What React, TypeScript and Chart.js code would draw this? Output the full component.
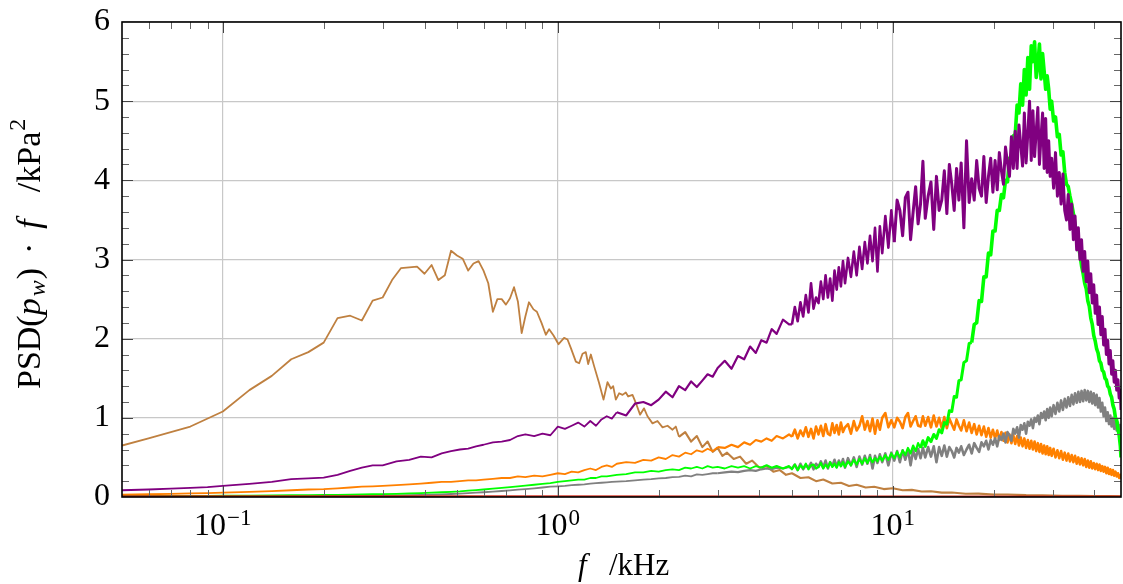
import React, { useEffect, useRef } from "react";
import { Chart, registerables } from "chart.js";

Chart.register(...registerables);

const SERIF = '"Liberation Serif", "Times New Roman", serif';

// ---- Shared frequency grid (kHz) for the violet / green / orange / gray spectra ----
const freqLow = [
  0.05, 0.06, 0.07, 0.08, 0.09, 0.1, 0.12, 0.14, 0.16, 0.18, 0.2, 0.22, 0.24, 0.26, 0.28, 0.3,
  0.33, 0.36, 0.39, 0.42, 0.45, 0.48, 0.51, 0.54, 0.57, 0.6, 0.64, 0.68, 0.72, 0.76, 0.8, 0.85,
  0.9, 0.95,
];
const freqMid = [
  1.0, 1.05, 1.1, 1.15, 1.2, 1.25, 1.3, 1.35, 1.4, 1.45, 1.5, 1.6, 1.7, 1.8, 1.9, 2.0, 2.1, 2.2,
  2.3, 2.4, 2.5, 2.6, 2.7, 2.8, 2.9, 3.0, 3.15, 3.3, 3.45, 3.6, 3.75, 3.9, 4.05, 4.2, 4.35, 4.5,
  4.7, 4.9,
];
const freqHigh = [
  5.0, 5.1, 5.2, 5.3, 5.4, 5.5, 5.6, 5.7, 5.8, 5.9,
  6.0, 6.1, 6.2, 6.3, 6.4, 6.5, 6.6, 6.7, 6.8, 6.9,
  7.0, 7.1, 7.2, 7.35, 7.5, 7.65, 7.8, 7.95, 8.1, 8.25,
  8.4, 8.55, 8.7, 8.85, 9.0, 9.15, 9.3, 9.5, 9.7, 9.9,
  10.1, 10.3, 10.5, 10.7, 10.9, 11.1, 11.3, 11.5, 11.7, 11.9,
  12.1, 12.3, 12.5, 12.75, 13.0, 13.25, 13.5, 13.75, 14.0, 14.25,
  14.5, 14.75, 15.0, 15.25, 15.5, 15.75, 16.0, 16.3, 16.6, 16.9,
  17.2, 17.5, 17.8, 18.1, 18.4, 18.7, 19.0, 19.3, 19.6, 19.9,
  20.2, 20.5, 20.8, 21.1, 21.4, 21.7, 22.0, 22.3, 22.6, 22.9,
  23.2, 23.5, 23.8, 24.1, 24.4, 24.7, 25.0, 25.3, 25.6, 25.9,
  26.2, 26.5, 26.8, 27.1, 27.4, 27.7, 28.0, 28.3, 28.6, 28.9,
  29.2, 29.5, 29.8, 30.2, 30.6, 31.0, 31.4, 31.8, 32.2, 32.6,
  33.0, 33.4, 33.8, 34.2, 34.6, 35.0, 35.4, 35.8, 36.2, 36.6,
  37.0, 37.4, 37.8, 38.2, 38.6, 39.0, 39.4, 39.8, 40.2, 40.6,
  41.0, 41.4, 41.8, 42.2, 42.6, 43.0, 43.4, 43.8, 44.2, 44.6,
  45.0, 45.4, 45.8, 46.2, 46.6, 47.0, 47.4, 47.8, 48.0,
];

// ---- PSD(p_w)·f in kPa², violet spectrum ----
const violetLow = [
  0.085, 0.095, 0.105, 0.115, 0.125, 0.14, 0.165, 0.19, 0.225, 0.235, 0.245, 0.28, 0.33, 0.37,
  0.4, 0.4, 0.45, 0.47, 0.51, 0.5, 0.55, 0.58, 0.6, 0.61, 0.64, 0.66, 0.69, 0.7, 0.72, 0.77,
  0.79, 0.77, 0.8, 0.78,
];
const violetMid = [
  0.89, 0.86, 0.9, 0.94, 0.89, 0.96, 0.9, 0.98, 1.02, 0.99, 1.07, 1.03, 1.18, 1.2, 1.16, 1.23,
  1.33, 1.26, 1.4, 1.35, 1.46, 1.39, 1.47, 1.55, 1.52, 1.63, 1.72, 1.62, 1.78, 1.74, 1.9, 1.82,
  1.98, 1.95, 2.12, 2.06, 2.24, 2.18,
];
const violetHigh = [
  2.18, 2.4, 2.22, 2.46, 2.28, 2.55, 2.33, 2.7, 2.38, 2.52,
  2.45, 2.72, 2.5, 2.8, 2.52, 2.76, 2.48, 2.86, 2.62, 2.9,
  2.66, 2.98, 2.7, 3.02, 2.78, 3.1, 2.8, 3.16, 2.88, 3.22,
  2.95, 3.3, 2.98, 3.4, 2.85, 3.42, 3.08, 3.55, 3.15, 3.62,
  3.22, 3.75, 3.62, 3.3, 3.78, 3.85, 3.25, 3.6, 3.92, 3.45,
  3.7, 4.24, 3.52, 3.8, 3.98, 3.38, 4.05, 3.62, 3.75, 4.12,
  3.58, 4.2, 3.95, 3.62, 4.15, 3.75, 4.22, 3.4, 4.5, 3.72,
  4.02, 3.75, 4.25, 3.9, 3.8, 4.3, 3.72, 4.05, 4.28, 3.85,
  4.25, 3.88, 4.35, 4.12, 3.95, 4.42, 4.22, 4.05, 4.55, 4.15,
  4.62, 4.15, 4.7, 4.45, 4.18, 4.85, 4.22, 4.6, 5.0, 4.25,
  4.88, 4.3, 4.62, 4.92, 4.2, 4.55, 4.85, 4.15, 4.78, 4.1,
  4.5, 4.05, 4.28, 3.9, 4.35, 3.8, 4.1, 3.7, 4.08, 3.62,
  3.5, 3.82, 3.38, 3.7, 3.25, 3.55, 3.12, 3.4, 3.0, 3.25,
  2.85, 3.1, 2.72, 2.98, 2.58, 2.82, 2.45, 2.68, 2.32, 2.55,
  2.18, 2.4, 2.05, 2.28, 1.92, 2.12, 1.8, 1.98, 1.68, 1.85,
  1.55, 1.72, 1.45, 1.6, 1.35, 1.48, 1.25, 1.35, 1.1,
];

// ---- green spectrum ----
const greenLow = [
  0.012, 0.012, 0.013, 0.014, 0.015, 0.016, 0.018, 0.02, 0.022, 0.024, 0.026, 0.028, 0.03, 0.032,
  0.035, 0.037, 0.04, 0.045, 0.05, 0.055, 0.06, 0.066, 0.072, 0.08, 0.087, 0.095, 0.105, 0.115,
  0.125, 0.135, 0.145, 0.155, 0.165, 0.175,
];
const greenMid = [
  0.19, 0.2, 0.21, 0.22, 0.22, 0.24, 0.24, 0.26, 0.26, 0.27, 0.28, 0.29, 0.31, 0.31, 0.33, 0.32,
  0.34, 0.35, 0.34, 0.37, 0.36, 0.38, 0.36, 0.39, 0.37, 0.38, 0.36, 0.39, 0.37, 0.39, 0.36, 0.39,
  0.37, 0.4, 0.37, 0.39, 0.36, 0.39,
];
const greenHigh = [
  0.35, 0.41, 0.34, 0.4, 0.36, 0.42, 0.35, 0.4, 0.41, 0.36,
  0.38, 0.43, 0.36, 0.41, 0.37, 0.44, 0.38, 0.42, 0.37, 0.44,
  0.39, 0.44, 0.38, 0.45, 0.4, 0.47, 0.41, 0.48, 0.42, 0.49,
  0.43, 0.5, 0.44, 0.49, 0.45, 0.51, 0.46, 0.53, 0.47, 0.55,
  0.49, 0.57, 0.5, 0.59, 0.53, 0.62, 0.55, 0.65, 0.58, 0.68,
  0.62, 0.71, 0.64, 0.75, 0.7, 0.79, 0.74, 0.85, 0.81, 0.94,
  0.92, 1.09, 1.08, 1.27, 1.26, 1.47, 1.48, 1.7, 1.72, 1.94,
  1.95, 2.18, 2.2, 2.48, 2.47, 2.78, 2.78, 3.08, 3.06, 3.36,
  3.36, 3.62, 3.62, 3.82, 3.78, 4.0, 3.98, 4.28, 4.26, 4.56,
  4.58, 4.95, 4.85, 5.22, 4.95, 5.4, 5.08, 5.55, 5.15, 5.7,
  5.5, 5.75, 5.3, 5.45, 5.72, 5.28, 5.6, 5.38, 5.15, 5.32,
  5.15, 4.9, 5.0, 4.75, 4.8, 4.55, 4.58, 4.32, 4.36, 4.1,
  3.95, 3.92, 3.8, 3.7, 3.58, 3.44, 3.32, 3.18, 3.06, 2.92,
  2.82, 2.7, 2.63, 2.48, 2.41, 2.26, 2.18, 2.04, 1.97, 1.87,
  1.82, 1.72, 1.69, 1.6, 1.58, 1.5, 1.48, 1.4, 1.38, 1.3,
  1.26, 1.16, 1.11, 1.0, 0.97, 0.86, 0.78, 0.64, 0.5,
];

// ---- orange spectrum ----
const orangeLow = [
  0.03, 0.035, 0.04, 0.045, 0.05, 0.055, 0.065, 0.075, 0.085, 0.095, 0.1, 0.11, 0.12, 0.13, 0.135,
  0.14, 0.15, 0.16, 0.17, 0.18, 0.19, 0.19, 0.2, 0.21, 0.21, 0.22, 0.23, 0.24, 0.24, 0.26, 0.25,
  0.27, 0.26, 0.28,
];
const orangeMid = [
  0.3, 0.29, 0.32, 0.31, 0.34, 0.36, 0.34, 0.38, 0.4, 0.38, 0.42, 0.44, 0.43, 0.47, 0.46, 0.5,
  0.48, 0.53, 0.51, 0.56, 0.54, 0.59, 0.57, 0.61, 0.58, 0.63, 0.62, 0.66, 0.63, 0.69, 0.66, 0.72,
  0.7, 0.74, 0.71, 0.77, 0.74, 0.79,
];
const orangeHigh = [
  0.76, 0.85, 0.74, 0.84, 0.77, 0.88, 0.76, 0.86, 0.74, 0.89,
  0.79, 0.9, 0.77, 0.92, 0.8, 0.78, 0.93, 0.81, 0.91, 0.79,
  0.94, 0.82, 0.88, 0.92, 0.8, 0.96, 0.84, 0.9, 1.02, 0.85,
  0.96, 0.83, 0.99, 0.8, 0.97, 0.85, 1.0, 1.06, 0.88, 0.97,
  0.88, 1.0, 0.95, 0.87, 1.01, 1.06, 0.89, 0.96, 1.02, 0.9,
  0.89, 1.02, 0.9, 1.01, 0.88, 1.03, 0.89, 1.0, 0.87, 1.01,
  0.87, 0.99, 0.92, 0.85, 0.98, 0.9, 0.84, 0.97, 0.83, 0.94,
  0.81, 0.92, 0.79, 0.9, 0.78, 0.89, 0.76, 0.87, 0.75, 0.85,
  0.74, 0.84, 0.72, 0.82, 0.71, 0.81, 0.69, 0.79, 0.68, 0.78,
  0.67, 0.77, 0.65, 0.75, 0.64, 0.74, 0.62, 0.72, 0.61, 0.71,
  0.6, 0.7, 0.58, 0.68, 0.57, 0.67, 0.55, 0.65, 0.54, 0.64,
  0.53, 0.62, 0.52, 0.61, 0.5, 0.59, 0.49, 0.58, 0.47, 0.56,
  0.46, 0.55, 0.45, 0.53, 0.44, 0.52, 0.42, 0.5, 0.41, 0.49,
  0.4, 0.48, 0.38, 0.46, 0.37, 0.45, 0.36, 0.43, 0.35, 0.42,
  0.34, 0.41, 0.33, 0.39, 0.32, 0.38, 0.3, 0.37, 0.29, 0.35,
  0.28, 0.34, 0.27, 0.32, 0.26, 0.3, 0.24, 0.28, 0.23,
];

// ---- gray spectrum ----
const grayLow = [
  0.005, 0.005, 0.006, 0.006, 0.007, 0.007, 0.008, 0.009, 0.01, 0.011, 0.012, 0.013, 0.014, 0.015,
  0.017, 0.018, 0.02, 0.023, 0.026, 0.03, 0.034, 0.038, 0.043, 0.048, 0.054, 0.06, 0.068, 0.076,
  0.084, 0.092, 0.1, 0.11, 0.12, 0.13,
];
const grayMid = [
  0.135, 0.14, 0.15, 0.155, 0.16, 0.17, 0.175, 0.18, 0.185, 0.19, 0.195, 0.2, 0.21, 0.22, 0.225,
  0.235, 0.24, 0.25, 0.255, 0.27, 0.26, 0.285, 0.28, 0.29, 0.3, 0.3, 0.31, 0.32, 0.315, 0.33,
  0.34, 0.33, 0.35, 0.36, 0.35, 0.37, 0.36, 0.38,
];
const grayHigh = [
  0.36, 0.41, 0.34, 0.42, 0.35, 0.4, 0.37, 0.43, 0.35, 0.42,
  0.38, 0.45, 0.37, 0.46, 0.36, 0.44, 0.39, 0.47, 0.38, 0.46,
  0.39, 0.48, 0.37, 0.49, 0.4, 0.5, 0.38, 0.51, 0.41, 0.52,
  0.42, 0.53, 0.36, 0.52, 0.43, 0.54, 0.44, 0.55, 0.4, 0.56,
  0.46, 0.58, 0.44, 0.59, 0.47, 0.6, 0.4, 0.59, 0.48, 0.61,
  0.49, 0.62, 0.5, 0.63, 0.51, 0.64, 0.44, 0.63, 0.52, 0.65,
  0.51, 0.63, 0.58, 0.5, 0.62, 0.56, 0.64, 0.53, 0.6, 0.66,
  0.55, 0.68, 0.62, 0.57, 0.69, 0.64, 0.71, 0.6, 0.72, 0.66,
  0.74, 0.64, 0.77, 0.72, 0.8, 0.69, 0.82, 0.78, 0.71, 0.86,
  0.8, 0.88, 0.75, 0.91, 0.85, 0.93, 0.8, 0.95, 0.9, 0.98,
  0.87, 1.0, 0.95, 1.03, 0.92, 1.06, 1.0, 1.08, 0.97, 1.11,
  1.0, 1.13, 1.02, 1.16, 1.05, 1.19, 1.08, 1.22, 1.1, 1.24,
  1.13, 1.26, 1.15, 1.29, 1.17, 1.31, 1.19, 1.33, 1.2, 1.34,
  1.21, 1.35, 1.22, 1.34, 1.2, 1.33, 1.18, 1.31, 1.16, 1.29,
  1.13, 1.25, 1.08, 1.19, 1.02, 1.13, 0.96, 1.07, 0.92, 1.03,
  0.89, 1.0, 0.86, 0.97, 0.84, 0.94, 0.82, 0.91, 0.84,
];

// ---- brown spectrum (own frequency samples) ----
const brownFreqKHz = [
  0.05, 0.06, 0.08, 0.1, 0.12, 0.14, 0.16, 0.18, 0.2, 0.22, 0.24, 0.26, 0.28, 0.3, 0.32, 0.34,
  0.36, 0.38, 0.4, 0.42, 0.44, 0.46, 0.48, 0.5, 0.52, 0.54, 0.56, 0.58, 0.6, 0.62, 0.64, 0.66,
  0.68, 0.7, 0.72, 0.74, 0.76, 0.78, 0.8, 0.82, 0.846, 0.866, 0.894, 0.921, 0.942, 0.971, 1.005,
  1.044, 1.069, 1.094, 1.132, 1.158, 1.185, 1.212, 1.232, 1.255, 1.284, 1.328, 1.369, 1.407,
  1.44, 1.463, 1.49, 1.524, 1.56, 1.596, 1.622, 1.671, 1.709, 1.76, 1.809, 1.852, 1.917, 1.984,
  2.054, 2.126, 2.2, 2.25, 2.3, 2.4, 2.5, 2.6, 2.7, 2.8, 2.9, 3.0, 3.1, 3.2, 3.35, 3.5, 3.65,
  3.8, 4.0, 4.2, 4.4, 4.6, 4.8, 5.0, 5.3, 5.6, 5.9, 6.2, 6.6, 7.0, 7.4, 7.8, 8.3, 8.8, 9.4, 10,
  10.7, 11.4, 12.2, 13, 14, 15, 16.5, 18, 20, 22, 25, 28, 32, 36, 40, 44, 48,
];
const brownPsdLow = [
  0.65, 0.74, 0.89, 1.08, 1.35, 1.53, 1.74, 1.83, 1.95, 2.26, 2.29, 2.23, 2.48, 2.52, 2.74, 2.89,
  2.9, 2.91, 2.82, 2.93, 2.74, 2.8, 3.11, 3.05, 3.01, 2.86, 2.95, 2.98, 2.86, 2.7, 2.34, 2.5,
  2.5, 2.43, 2.51, 2.65, 2.47, 2.07, 2.28, 2.46, 2.37, 2.34, 2.2, 2.05, 2.12, 2.04, 1.93,
  2.01, 1.99, 1.88, 1.71, 1.69, 1.81, 1.83, 1.68, 1.8, 1.65, 1.44, 1.23, 1.45,
  1.37, 1.4, 1.23, 1.31, 1.29, 1.32, 1.27, 1.29, 1.19, 1.04, 1.12, 1.02, 0.93, 0.96,
  0.88, 0.9, 0.85, 0.89, 0.76,
];
const brownPsdTail = [
  0.82, 0.7, 0.77, 0.63, 0.7, 0.57, 0.62, 0.52, 0.56, 0.48, 0.51, 0.42, 0.46, 0.37, 0.39, 0.32,
  0.34, 0.28, 0.3, 0.24, 0.25, 0.2, 0.22, 0.17, 0.18, 0.14, 0.155, 0.12, 0.13, 0.1, 0.11, 0.085,
  0.09, 0.07, 0.072, 0.055, 0.056, 0.042, 0.043, 0.032, 0.032, 0.024, 0.022, 0.016, 0.016, 0.011,
  0.011, 0.008,
];

// ---- red spectrum, flat along the axis ----
const redFreqKHz = [0.05, 0.5, 5, 48];
const redPsd = [0.01, 0.01, 0.009, 0.008];

// ---- axis ticks ----
const xMajorTicks = [0.1, 1, 10];
const xMajorExponents = ["\u22121", "0", "1"];
const xMinorTicks = [
  0.06, 0.07, 0.08, 0.09, 0.2, 0.3, 0.4, 0.5, 0.6, 0.7, 0.8, 0.9, 2, 3, 4, 5, 6, 7, 8, 9, 20, 30, 40,
];
const yMajorTicks = [0, 1, 2, 3, 4, 5, 6];
const yMinorTicks = [
  0.2, 0.4, 0.6, 0.8, 1.2, 1.4, 1.6, 1.8, 2.2, 2.4, 2.6, 2.8, 3.2, 3.4, 3.6, 3.8, 4.2, 4.4, 4.6,
  4.8, 5.2, 5.4, 5.6, 5.8,
];

const COLORS = {
  red: "#d42a1a",
  violet: "#800080",
  green: "#00ff00",
  orange: "#ff8000",
  gray: "#808080",
  brown: "#bf8040",
};
const GRID = "#c8c8c8";

// Stroke width per spectrum as a function of frequency: the dense,
// noisy high-frequency parts are drawn as a heavier trace.
const WIDTH_STEPS: Record<string, [number, number][]> = {
  red: [[0, 1.8]],
  violet: [[0, 1.8], [1.5, 2.2], [5, 2.6], [10, 3.0]],
  green: [[0, 1.8], [4, 2.2], [12, 3.0], [17, 3.6]],
  gray: [[0, 1.8], [3, 2.2], [5, 2.6]],
  orange: [[0, 1.8], [3, 2.2], [5, 2.6]],
  brown: [[0, 1.8], [2.3, 2.1]],
};

function widthAt(name: string, f: number) {
  let w = 1.8;
  for (const [from, width] of WIDTH_STEPS[name]) if (f >= from) w = width;
  return w;
}

function pairs(xs: number[], ys: number[]) {
  return xs.map((x, i) => ({ x, y: ys[i] }));
}

// Inward tick marks on all four sides, the black frame, the x tick labels with
// exponents and the two axis titles.
const axisDecor = {
  id: "axisDecor",
  afterDatasetsDraw(chart: any) {
    const { ctx, chartArea: a, scales } = chart;
    const xs = scales.x;
    const ys = scales.y;
    ctx.save();
    ctx.lineWidth = 1;
    const seg = (x1: number, y1: number, x2: number, y2: number, color: string) => {
      ctx.strokeStyle = color;
      ctx.beginPath();
      ctx.moveTo(x1, y1);
      ctx.lineTo(x2, y2);
      ctx.stroke();
    };
    const MAJ = 11;
    const MIN = 7;
    for (const v of xMinorTicks) {
      const px = Math.round(xs.getPixelForValue(v)) + 0.5;
      seg(px, a.bottom, px, a.bottom - MIN, "#666");
      seg(px, a.top, px, a.top + MIN, "#666");
    }
    for (const v of xMajorTicks) {
      const px = Math.round(xs.getPixelForValue(v)) + 0.5;
      seg(px, a.bottom, px, a.bottom - MAJ, "#444");
      seg(px, a.top, px, a.top + MAJ, "#444");
    }
    for (const v of yMinorTicks) {
      const py = Math.round(ys.getPixelForValue(v)) + 0.5;
      seg(a.left, py, a.left + MIN, py, "#666");
      seg(a.right, py, a.right - MIN, py, "#666");
    }
    for (const v of yMajorTicks) {
      if (v === 0 || v === 6) continue;
      const py = Math.round(ys.getPixelForValue(v)) + 0.5;
      seg(a.left, py, a.left + MAJ, py, "#444");
      seg(a.right, py, a.right - MAJ, py, "#444");
    }
    ctx.strokeStyle = "#000";
    ctx.lineWidth = 1.6;
    ctx.strokeRect(a.left, a.top, a.right - a.left, a.bottom - a.top);
    ctx.restore();
  },
  afterDraw(chart: any) {
    const { ctx, scales } = chart;
    const xs = scales.x;
    ctx.save();
    ctx.fillStyle = "#000";
    ctx.textBaseline = "alphabetic";
    ctx.textAlign = "left";

    // x tick labels: 10 with a raised exponent
    xMajorTicks.forEach((v, i) => {
      const px = xs.getPixelForValue(v);
      ctx.font = `32px ${SERIF}`;
      const bw = ctx.measureText("10").width;
      ctx.font = `23px ${SERIF}`;
      const ew = ctx.measureText(xMajorExponents[i]).width;
      const start = px - (bw + ew + 1) / 2;
      ctx.font = `32px ${SERIF}`;
      ctx.fillText("10", start, 535);
      ctx.font = `23px ${SERIF}`;
      ctx.fillText(xMajorExponents[i], start + bw + 1, 525);
    });

    // x title: f /kHz
    ctx.font = `italic 31px ${SERIF}`;
    ctx.fillText("f", 578, 575);
    ctx.font = `31px ${SERIF}`;
    ctx.fillText("/kHz", 609, 575);

    // y title: PSD(p_w) · f /kPa²
    ctx.translate(40, 389);
    ctx.rotate(-Math.PI / 2);
    let x = 0;
    const put = (text: string, font: string, dy: number, after: number) => {
      ctx.font = font;
      ctx.fillText(text, x, dy);
      x += ctx.measureText(text).width + after;
    };
    put("PSD(", `34px ${SERIF}`, 0, 0);
    put("p", `italic 34px ${SERIF}`, 0, 2);
    put("w", `italic 24px ${SERIF}`, 5, 1);
    put(")", `34px ${SERIF}`, 0, 14);
    put("\u00b7", `34px ${SERIF}`, 0, 14);
    put("f", `italic 34px ${SERIF}`, 0, 27);
    put("/kPa", `34px ${SERIF}`, 0, 1);
    put("2", `24px ${SERIF}`, -15, 0);
    ctx.restore();
  },
};

export default function App() {
  const canvasRef = useRef<HTMLCanvasElement | null>(null);

  useEffect(() => {
    const canvas = canvasRef.current;
    if (!canvas) return;
    const freq = [...freqLow, ...freqMid, ...freqHigh];
    const line = (name: string, xs: number[], ys: number[]) => ({
      label: name,
      data: pairs(xs, ys),
      borderColor: (COLORS as any)[name],
      backgroundColor: (COLORS as any)[name],
      borderWidth: 1.8,
      pointRadius: 0,
      fill: false,
      tension: 0,
      borderJoinStyle: "round" as const,
      segment: {
        borderWidth: (c: any) => widthAt(name, c.p0.parsed.x),
      },
    });

    const chart = new Chart(canvas, {
      type: "line",
      data: {
        datasets: [
          line("red", redFreqKHz, redPsd),
          line("violet", freq, [...violetLow, ...violetMid, ...violetHigh]),
          line("green", freq, [...greenLow, ...greenMid, ...greenHigh]),
          line("gray", freq, [...grayLow, ...grayMid, ...grayHigh]),
          line("orange", freq, [...orangeLow, ...orangeMid, ...orangeHigh]),
          line("brown", brownFreqKHz, [...brownPsdLow, ...brownPsdTail]),
        ],
      },
      options: {
        animation: false,
        responsive: false,
        layout: { padding: { top: 22, right: 2, left: 0, bottom: 0 } },
        plugins: {
          legend: { display: false },
          tooltip: { enabled: false },
        },
        scales: {
          x: {
            type: "logarithmic",
            min: 0.05,
            max: 48,
            afterBuildTicks: (s: any) => {
              s.ticks = xMajorTicks.map((v) => ({ value: v, major: true }));
            },
            afterFit: (s: any) => {
              s.height = 87;
              s.paddingLeft = 0;
              s.paddingRight = 0;
            },
            ticks: { display: false },
            grid: { color: GRID, lineWidth: 1.2, drawTicks: false },
            border: { display: false },
          },
          y: {
            type: "linear",
            min: 0,
            max: 6,
            afterBuildTicks: (s: any) => {
              s.ticks = yMajorTicks.map((v) => ({ value: v }));
            },
            afterFit: (s: any) => {
              s.width = 122;
              s.paddingTop = 0;
              s.paddingBottom = 0;
            },
            ticks: {
              color: "#000",
              padding: 12,
              font: { family: SERIF, size: 32 },
              callback: (v: any) => String(v),
            },
            grid: { color: GRID, lineWidth: 1.2, drawTicks: false },
            border: { display: false },
          },
        },
      },
      plugins: [axisDecor],
    });

    return () => chart.destroy();
  }, []);

  return (
    <div style={{ position: "fixed", left: 0, top: 0, width: 1123, height: 584, background: "#fff" }}>
      <canvas ref={canvasRef} width={1123} height={584} style={{ display: "block" }} />
    </div>
  );
}
